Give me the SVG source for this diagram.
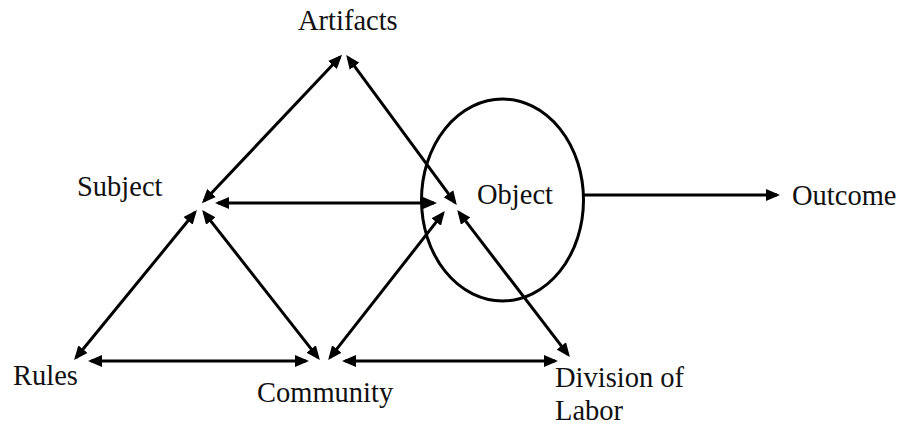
<svg xmlns="http://www.w3.org/2000/svg" width="900" height="425" viewBox="0 0 900 425">
  <style>
    .lbl { font-family: "Liberation Serif", "DejaVu Serif", "Noto Serif", serif; font-size: 28.5px; fill: #111; }
    .conn { stroke: #000; stroke-width: 3; fill: none; }
    .two { marker-start: url(#ah); marker-end: url(#ah); }
    .one { marker-end: url(#ah); }
  </style>
  <defs>
    <marker id="ah" markerUnits="userSpaceOnUse" markerWidth="14" markerHeight="12" refX="11" refY="6" orient="auto-start-reverse">
      <path d="M0,0 L14,6 L0,12 z" fill="#000"/>
    </marker>
  </defs>
  <rect width="900" height="425" fill="#fff"/>

  <g id="object">
    <ellipse cx="502.5" cy="200" rx="81" ry="101" fill="none" stroke="#000" stroke-width="3"/>
    <text class="lbl" x="477" y="204" font-family="Liberation Serif, serif">Object</text>
  </g>
  <g id="artifacts"><text class="lbl" x="298" y="30" font-family="Liberation Serif, serif">Artifacts</text></g>
  <g id="subject"><text class="lbl" x="77" y="196" font-family="Liberation Serif, serif">Subject</text></g>
  <g id="outcome"><text class="lbl" x="792" y="205" font-family="Liberation Serif, serif">Outcome</text></g>
  <g id="rules"><text class="lbl" x="13" y="385" font-family="Liberation Serif, serif">Rules</text></g>
  <g id="community"><text class="lbl" x="257" y="402" font-family="Liberation Serif, serif">Community</text></g>
  <g id="division"><text class="lbl" x="555" y="387" font-family="Liberation Serif, serif">Division of</text><text class="lbl" x="555" y="420" font-family="Liberation Serif, serif">Labor</text></g>

  <g id="connectors">
    <line class="conn two" x1="204" y1="201" x2="340" y2="57"/>
    <line class="conn two" x1="348" y1="57.4" x2="455" y2="202.6"/>
    <line class="conn two" x1="218" y1="203" x2="434" y2="203"/>
    <line class="conn two" x1="76" y1="357.7" x2="195" y2="212.3"/>
    <line class="conn two" x1="204" y1="212.4" x2="318" y2="357.6"/>
    <line class="conn two" x1="91" y1="361" x2="306" y2="361"/>
    <line class="conn two" x1="330" y1="357.6" x2="443" y2="213.4"/>
    <line class="conn two" x1="345" y1="361" x2="555" y2="361"/>
    <line class="conn two" x1="459" y1="212.4" x2="568" y2="354.6"/>
    <line class="conn one" x1="583.5" y1="195" x2="777" y2="195"/>
  </g>
</svg>
